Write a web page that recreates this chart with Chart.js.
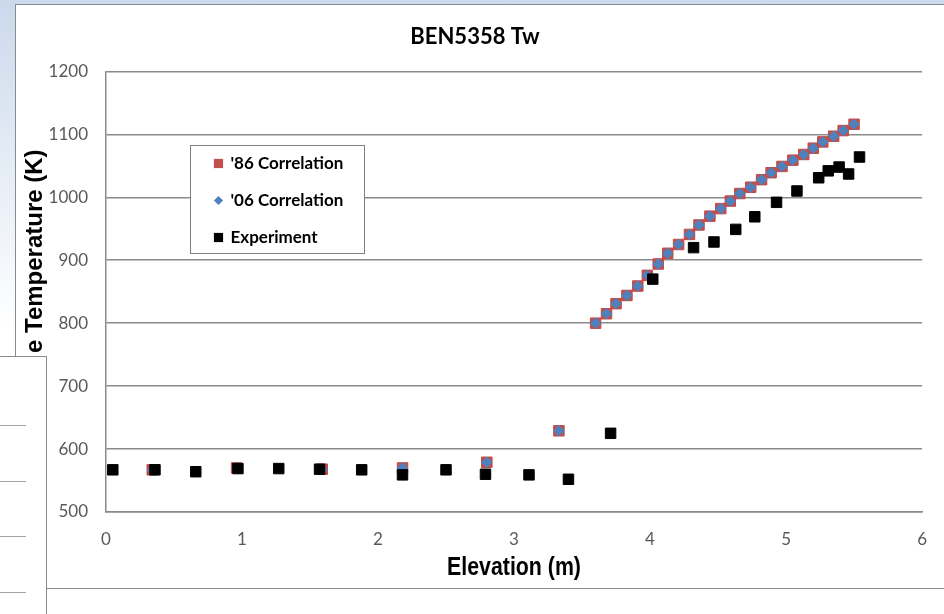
<!DOCTYPE html>
<html lang="en">
<head>
<meta charset="UTF-8">
<meta name="viewport" content="width=device-width, initial-scale=1.0">
<title>BEN5358 Tw</title>
<style>
    html, body { margin: 0; padding: 0; }
    body {
        width: 944px;
        height: 614px;
        overflow: hidden;
        position: relative;
        background: linear-gradient(to bottom, #cbd9ec 0px, #dce6f3 110px, #f2f6fb 250px, #ffffff 330px);
    }
    /* white chart frame, runs off the right edge */
    .frame {
        position: absolute;
        left: 15px;
        top: 4px;
        width: 960px;
        height: 583px;
        background: #fff;
        border: 1.5px solid #8a8a8a;
    }
    .chart-wrap {
        position: absolute;
        left: 0;
        top: 0;
        width: 944px;
        height: 614px;
    }
    /* the neighbouring table that sits over the lower left corner */
    .side-box {
        position: absolute;
        left: -2px;
        top: 356px;
        width: 47px;
        height: 280px;
        background: #fff;
        border: 1.5px solid #8a8a8a;
    }
    .side-box i {
        position: absolute;
        left: 0;
        width: 27px;
        height: 0;
        border-top: 1.5px solid #a6a6a6;
    }
</style>
</head>
<body>

<div class="frame"></div>
<div class="chart-wrap">
    <canvas id="tempChart"></canvas>
</div>
<div class="side-box">
    <i style="top:68px"></i>
    <i style="top:124px"></i>
    <i style="top:179px"></i>
    <i style="top:235px"></i>
</div>

<script src="https://cdn.jsdelivr.net/npm/chart.js"></script>
<script>
// elevation (m) of the correlation points
const corrElevation = [0.34, 0.96, 1.59, 2.18, 2.80, 3.33,
    3.60, 3.68, 3.75, 3.83, 3.91, 3.98, 4.06, 4.13, 4.21, 4.29, 4.36, 4.44, 4.52,
    4.59, 4.66, 4.74, 4.82, 4.89, 4.97, 5.05, 5.13, 5.20, 5.27, 5.35, 5.42, 5.50];
// wall temperature (K), '86 correlation
const corr86Temp = [567, 570, 568, 570, 579, 629,
    800, 815, 831, 844, 859, 876, 894, 911, 925, 941, 956, 970, 982,
    994, 1006, 1016, 1028, 1039, 1049, 1059, 1068, 1078, 1088, 1097, 1106, 1116];
// wall temperature (K), '06 correlation
const corr06Temp = [567, 570, 568, 570, 579, 629,
    800, 815, 831, 844, 859, 876, 894, 911, 925, 941, 956, 970, 982,
    994, 1006, 1016, 1028, 1039, 1049, 1059, 1068, 1078, 1088, 1097, 1106, 1116];
// measured points
const expElevation = [0.05, 0.36, 0.66, 0.97, 1.27, 1.57, 1.88, 2.18, 2.50, 2.79, 3.11, 3.40,
    3.71, 4.02, 4.32, 4.47, 4.63, 4.77, 4.93, 5.08, 5.24, 5.31, 5.39, 5.46, 5.54];
const expTemp = [567, 567, 564, 569, 569, 568, 567, 559, 567, 560, 559, 552,
    625, 870, 920, 929, 949, 969, 992, 1010, 1031, 1042, 1048, 1037, 1064];

const seriesLabels = ["'86 Correlation", "'06 Correlation", 'Experiment'];
const xMin = 0, xMax = 6, xStep = 1;
const yMin = 500, yMax = 1200, yStep = 100;
const xTitleText = 'Elevation (m)';
const yTitleText = 'e Temperature (K)';

const gridGray = '#8a8a8a';
const tickGray = '#595959';

function toPoints(xs, ys) {
    return xs.map((x, i) => ({ x: x, y: ys[i] }));
}

// rotated axis title; the start of it is hidden under the side box
const sideTitle = {
    id: 'sideTitle',
    afterDraw(chart) {
        const ctx = chart.ctx;
        ctx.save();
        ctx.translate(35, 353);
        ctx.rotate(-Math.PI / 2);
        ctx.font = 'bold 24px "Liberation Sans", Arial, sans-serif';
        ctx.textAlign = 'left';
        ctx.textBaseline = 'middle';
        ctx.fillStyle = '#000';
        ctx.fillText(yTitleText, 0, 0);
        ctx.restore();
    }
};

// x axis title, squeezed sideways like a narrow face
const bottomTitle = {
    id: 'bottomTitle',
    afterDraw(chart) {
        const xs = chart.scales.x;
        const ctx = chart.ctx;
        ctx.save();
        ctx.translate((xs.left + xs.right) / 2, xs.bottom - 46);
        ctx.scale(0.82, 1);
        ctx.font = 'bold 26px "Liberation Sans", Arial, sans-serif';
        ctx.textAlign = 'center';
        ctx.textBaseline = 'middle';
        ctx.fillStyle = '#000';
        ctx.fillText(xTitleText, 0, 0);
        ctx.restore();
    }
};

function drawMarker(ctx, style, x, y, color, size) {
    ctx.fillStyle = color;
    ctx.beginPath();
    if (style === 'rectRot') {
        ctx.moveTo(x, y - size);
        ctx.lineTo(x + size, y);
        ctx.lineTo(x, y + size);
        ctx.lineTo(x - size, y);
        ctx.closePath();
    } else {
        ctx.rect(x - size, y - size, size * 2, size * 2);
    }
    ctx.fill();
}

// boxed legend inside the plot area
const boxLegend = {
    id: 'boxLegend',
    afterDatasetsDraw(chart) {
        const ctx = chart.ctx;
        const area = chart.chartArea;
        const left = Math.round(area.left + 84) + 0.5;
        const top = Math.round(area.top + 74) + 0.5;
        const w = 174, h = 108;
        ctx.save();
        ctx.fillStyle = '#fff';
        ctx.fillRect(left, top, w, h);
        ctx.strokeStyle = '#7f7f7f';
        ctx.lineWidth = 1;
        ctx.strokeRect(left, top, w, h);
        ctx.font = 'bold 17px Lato';
        ctx.textBaseline = 'middle';
        chart.data.datasets.forEach((ds, i) => {
            const y = top + 18 + i * 37;
            drawMarker(ctx, ds.pointStyle, left + 28, y, ds.backgroundColor, 4.6);
            ctx.fillStyle = '#000';
            ctx.fillText(ds.label, left + 40, y);
        });
        ctx.restore();
    }
};

function drawChart() {
    const ctx = document.getElementById('tempChart');
    new Chart(ctx, {
        type: 'scatter',
        data: {
            datasets: [
                {
                    label: seriesLabels[0],
                    data: toPoints(corrElevation, corr86Temp),
                    pointStyle: 'rect',
                    pointRadius: 7.4,
                    backgroundColor: '#C0504D',
                    borderColor: '#BE4B48',
                    borderWidth: 1,
                    order: 3
                },
                {
                    label: seriesLabels[1],
                    data: toPoints(corrElevation, corr06Temp),
                    pointStyle: 'rectRot',
                    pointRadius: 5.2,
                    backgroundColor: '#4F81BD',
                    borderColor: '#4F81BD',
                    borderWidth: 1,
                    order: 2
                },
                {
                    label: seriesLabels[2],
                    data: toPoints(expElevation, expTemp),
                    pointStyle: 'rect',
                    pointRadius: 7.4,
                    backgroundColor: '#000',
                    borderColor: '#000',
                    borderWidth: 1,
                    order: 1
                }
            ]
        },
        options: {
            responsive: true,
            maintainAspectRatio: false,
            animation: false,
            events: [],
            layout: { padding: { left: 25, right: 19, top: 0, bottom: 0 } },
            plugins: {
                legend: { display: false },
                tooltip: { enabled: false },
                title: {
                    display: true,
                    text: 'BEN5358 Tw',
                    color: '#000',
                    font: { family: 'Lato', size: 22, weight: 'bold' },
                    padding: { top: 24, bottom: 21 }
                }
            },
            scales: {
                x: {
                    type: 'linear',
                    min: xMin,
                    max: xMax,
                    afterFit: s => { s.height = 102; },
                    ticks: {
                        stepSize: xStep,
                        color: tickGray,
                        font: { family: 'Lato', size: 17 },
                        padding: 17,
                        callback: v => String(v)
                    },
                    grid: { display: false, drawTicks: false },
                    border: { display: true, color: gridGray, width: 1.5 }
                },
                y: {
                    min: yMin,
                    max: yMax,
                    afterFit: s => { s.width = 81; },
                    ticks: {
                        stepSize: yStep,
                        color: tickGray,
                        font: { family: 'Lato', size: 17 },
                        padding: 18,
                        callback: v => String(v)
                    },
                    grid: { color: gridGray, lineWidth: 1.5, drawTicks: false },
                    border: { color: gridGray, width: 1.5 }
                }
            }
        },
        plugins: [sideTitle, bottomTitle, boxLegend]
    });
}

const fontsNeeded = ['bold 22px Lato', '17px Lato', 'bold 17px Lato',
    'bold 26px "Liberation Sans"', 'bold 24px "Liberation Sans"'];
Promise.all(fontsNeeded.map(f => document.fonts.load(f)))
    .catch(() => {})
    .then(drawChart);
</script>

</body>
</html>
